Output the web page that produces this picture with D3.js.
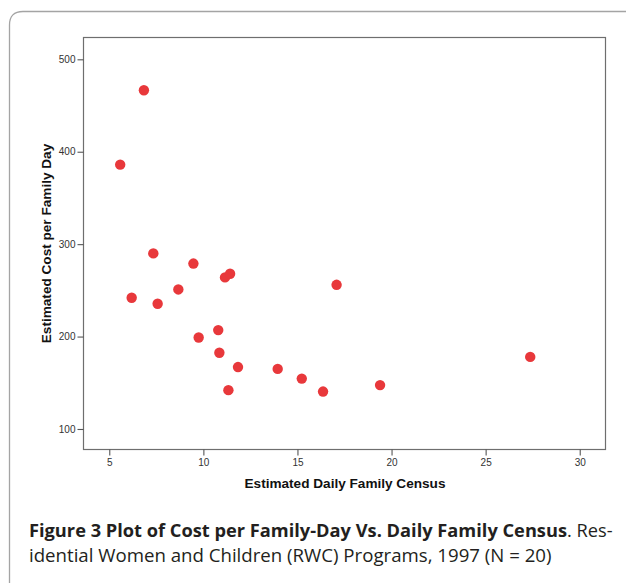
<!DOCTYPE html>
<html>
<head>
<meta charset="utf-8">
<script src="https://cdn.jsdelivr.net/npm/d3@7/dist/d3.min.js"></script>
<style>
  html, body { margin: 0; padding: 0; background: #fff; }
  svg { display: block; }
</style>
</head>
<body>
<svg id="chart" width="626" height="583"></svg>
<script>
// ---- data ----
const census = [6.84, 5.58, 7.34, 9.47, 11.15, 11.42, 8.67, 7.57, 17.08, 10.79,
                9.75, 10.85, 11.84, 13.95, 15.23, 11.33, 16.36, 27.37, 19.39, 6.19];
const cost   = [466.5, 386, 290, 279, 264, 268, 251, 235.5, 256, 207,
                199, 182.5, 167, 165, 154.5, 142, 140.5, 178, 147.5, 242];
const xTicks = [5, 10, 15, 20, 25, 30];
const yTicks = [100, 200, 300, 400, 500];
const xTitle = "Estimated Daily Family Census";
const yTitle = "Estimated Cost per Family Day";
const captionBold = "Figure 3 Plot of Cost per Family-Day Vs. Daily Family Census";
const captionRest1 = ". Res-";
const captionLine2 = "idential Women and Children (RWC) Programs, 1997 (N = 20)";

const svg = d3.select("#chart");

// outer rounded frame
svg.append("path")
  .attr("d", "M 9.5 585 L 9.5 25 Q 9.5 11.5 23 11.5 L 630 11.5")
  .attr("fill", "none")
  .attr("stroke", "#a4a4a4")
  .attr("stroke-width", 1.3);

const pL = 83.5, pR = 605.5, pT = 37.5, pB = 449.5;

const x = d3.scaleLinear().domain([3.63, 31.37]).range([pL, pR]);
const y = d3.scaleLinear().domain([77.8, 523.6]).range([pB, pT]);

// plot box
svg.append("rect")
  .attr("x", pL).attr("y", pT)
  .attr("width", pR - pL).attr("height", pB - pT)
  .attr("fill", "none")
  .attr("stroke", "#6e6e6e")
  .attr("stroke-width", 1.2);

// axes
const xAxis = svg.append("g")
  .attr("transform", `translate(0,${pB})`)
  .call(d3.axisBottom(x).tickValues(xTicks).tickSize(6).tickSizeOuter(0).tickPadding(3));
const yAxis = svg.append("g")
  .attr("transform", `translate(${pL},0)`)
  .call(d3.axisLeft(y).tickValues(yTicks).tickSize(6).tickSizeOuter(0).tickPadding(2));

[xAxis, yAxis].forEach(g => {
  g.select(".domain").remove();
  g.selectAll(".tick line").attr("stroke", "#555").attr("stroke-width", 1.1);
  g.selectAll(".tick text")
    .attr("fill", "#333")
    .style("font-family", "'Liberation Sans', Arial, sans-serif")
    .style("font-size", "10px");
});

// axis titles
svg.append("text")
  .attr("x", (pL + pR) / 2 + 0.5)
  .attr("y", 484)
  .attr("text-anchor", "middle")
  .attr("dominant-baseline", "middle")
  .style("font-family", "'Liberation Sans', Arial, sans-serif")
  .style("font-weight", "bold")
  .style("font-size", "13.6px")
  .attr("fill", "#111")
  .text(xTitle);

svg.append("text")
  .attr("transform", `translate(47,${(pT + pB) / 2 + 0}) rotate(-90)`)
  .attr("text-anchor", "middle")
  .attr("dominant-baseline", "middle")
  .style("font-family", "'Liberation Sans', Arial, sans-serif")
  .style("font-weight", "bold")
  .style("font-size", "13.6px")
  .attr("fill", "#111")
  .text(yTitle);

// points
svg.append("g")
  .selectAll("circle")
  .data(census.map((c, i) => ({ c, v: cost[i] })))
  .join("circle")
  .attr("cx", d => x(d.c))
  .attr("cy", d => y(d.v))
  .attr("r", 5.2)
  .attr("fill", "#e8383b");

// caption
const capFont = "'Open Sans', 'Noto Sans', sans-serif";
const cap1 = svg.append("text")
  .attr("x", 29).attr("y", 537)
  .style("font-family", capFont)
  .style("font-size", "17px")
  .attr("fill", "#231f20");
cap1.append("tspan").style("font-weight", "bold").text(captionBold);
cap1.append("tspan").text(captionRest1);

const cap2 = svg.append("text")
  .attr("x", 29).attr("y", 562)
  .style("font-family", capFont)
  .style("font-size", "17px")
  .attr("fill", "#231f20")
  .text(captionLine2);

// fit caption widths to the reference
const w1 = cap1.node().getComputedTextLength();
cap1.style("font-size", (17 * 584 / w1) + "px");
const w2 = cap2.node().getComputedTextLength();
cap2.style("font-size", (17 * 523 / w2) + "px");
</script>
</body>
</html>
